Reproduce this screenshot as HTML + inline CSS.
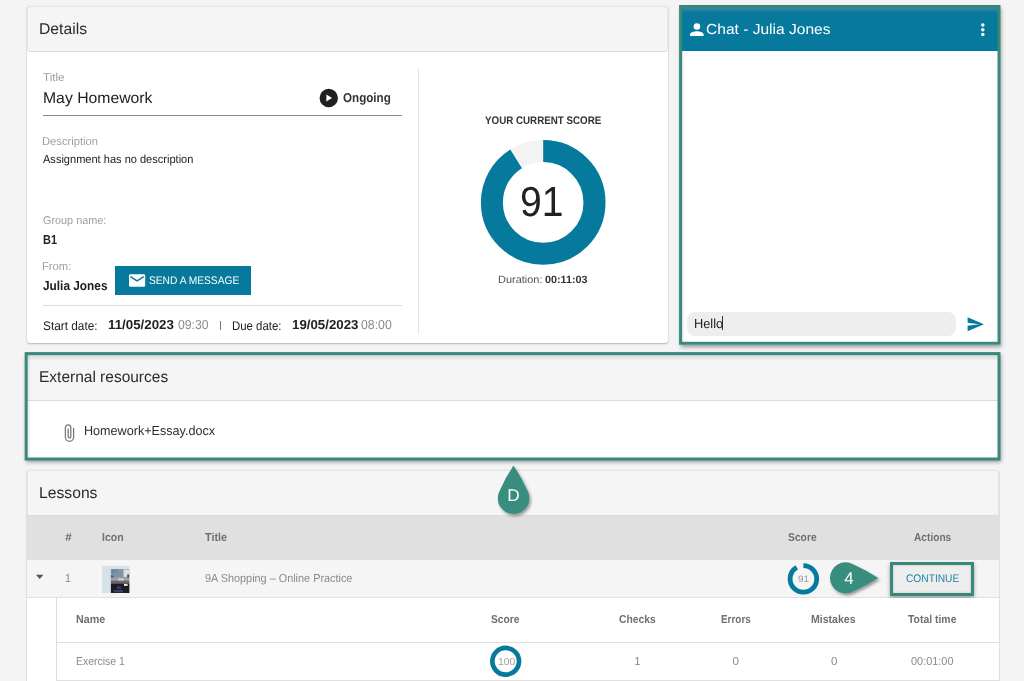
<!DOCTYPE html>
<html lang="en">
<head>
<meta charset="utf-8">
<title>Assignment details</title>
<style>
*{box-sizing:border-box;margin:0;padding:0}
html,body{width:1024px;height:681px;overflow:hidden;background:#f4f4f4;font-family:"Liberation Sans",sans-serif;color:#212121}
.a{position:absolute}
.t{position:absolute;white-space:nowrap;line-height:1;transform-origin:0 0;text-rendering:geometricPrecision}
.card{position:absolute;background:#fff;border-radius:3px;box-shadow:0 1px 2px rgba(0,0,0,.26),0 0 1px rgba(0,0,0,.18)}
.hdr{position:absolute;left:0;top:0;right:0;background:#f5f5f5;border:1px solid #e6e6e6;border-bottom-color:#dcdcdc;border-radius:3px}
</style>
</head>
<body>

<!-- DETAILS CARD -->
<div class="card" style="left:27px;top:6px;width:641px;height:337px"><div class="hdr" style="height:46px"></div></div>
<svg class="a" style="left:319px;top:88px" width="20" height="20" viewBox="0 0 20 20"><circle cx="9.75" cy="10" r="9.2" fill="#1f1f1f"/><path d="M7.4 6.4 L13.1 10 L7.4 13.6 Z" fill="#fff"/></svg>
<div class="a" style="left:43px;top:115px;width:359px;height:1px;background:#8c8c8c"></div>
<div class="a" style="left:115px;top:266px;width:136px;height:28.5px;background:#06799c"></div>
<svg class="a" style="left:129px;top:274px" width="17" height="13" viewBox="0 0 17 13"><rect x="0" y="0.2" width="16.2" height="12.5" rx="1.3" fill="#fff"/><path d="M1.4 2.6 L8.1 6.9 L14.8 2.6" fill="none" stroke="#06799c" stroke-width="1.5"/></svg>
<div class="a" style="left:43px;top:305px;width:359px;height:1px;background:#dcdcdc"></div>
<div class="a" style="left:219.5px;top:321px;width:1px;height:9px;background:#7a7a7a"></div>
<div class="a" style="left:418px;top:68px;width:1px;height:266px;background:#e3e3e3"></div>

<!-- SCORE -->
<svg class="a" style="left:478px;top:137px" width="131" height="131" viewBox="0 0 131 131">
  <circle cx="65.2" cy="65.4" r="51.3" fill="none" stroke="#f3f3f3" stroke-width="22"/>
  <circle cx="65.2" cy="65.4" r="51.3" fill="none" stroke="#067a9d" stroke-width="22" stroke-dasharray="293.3 400" transform="rotate(-90 65.2 65.4)"/>
</svg>

<!-- CHAT -->
<div class="a" style="left:682px;top:8px;width:316px;height:334px;background:#fff"></div>
<div class="a" style="left:682px;top:8px;width:316px;height:43px;background:#06799c"></div>
<div class="a" style="left:682px;top:8px;width:316px;height:5px;background:linear-gradient(rgba(110,150,160,.5),rgba(110,150,160,0))"></div>
<svg class="a" style="left:689px;top:23px" width="15" height="14" viewBox="0 0 15 14"><circle cx="7.9" cy="3.5" r="3.3" fill="#fff"/><path d="M1 12.9 V11.5 C1 9.2 5.4 8.2 7.9 8.2 C10.4 8.2 14.6 9.2 14.6 11.5 V12.9 Z" fill="#fff"/></svg>
<svg class="a" style="left:980px;top:22px" width="6" height="16" viewBox="0 0 6 16"><circle cx="2.8" cy="3" r="1.75" fill="#fff"/><circle cx="2.8" cy="7.75" r="1.75" fill="#fff"/><circle cx="2.8" cy="12.5" r="1.75" fill="#fff"/></svg>
<div class="a" style="left:686.7px;top:312.4px;width:269.2px;height:23.4px;border-radius:8px;background:#eeeeee"></div>
<div class="a" style="left:722px;top:316px;width:1px;height:14px;background:#333"></div>
<svg class="a" style="left:967px;top:316px" width="18" height="17" viewBox="0 0 18 17"><path d="M0.6 1.2 L16.8 8.2 L0.6 15.2 L0.6 9.75 L12.2 8.2 L0.6 6.65 Z" fill="#06799c"/></svg>


<!-- EXTERNAL RESOURCES -->
<div class="a" style="left:27px;top:354px;width:972px;height:104px;background:#fff"></div>
<div class="a" style="left:27px;top:354px;width:972px;height:47px;background:#f5f5f5;border-bottom:1px solid #dcdcdc"></div>
<svg class="a" style="left:63px;top:423px" width="13" height="20" viewBox="0 0 13 20"><path d="M10.6 5.4 V14.2 A4.1 4.1 0 0 1 2.4 14.2 V4.6 A2.7 2.7 0 0 1 7.8 4.6 V13.6 A1.3 1.3 0 0 1 5.2 13.6 V6.2" fill="none" stroke="#787878" stroke-width="1.3" stroke-linecap="round"/></svg>


<!-- highlight frames -->
<div class="a" style="left:28px;top:355px;width:970px;height:6px;background:linear-gradient(rgba(110,110,110,.22),rgba(110,110,110,0))"></div>
<div class="a" style="left:28px;top:355px;width:3px;height:102px;background:linear-gradient(90deg,rgba(110,110,110,.14),rgba(110,110,110,0))"></div>
<div class="a" style="left:682px;top:51px;width:3px;height:291px;background:linear-gradient(90deg,rgba(110,110,110,.14),rgba(110,110,110,0))"></div>

<div class="a" style="left:679.5px;top:5.5px;width:320.5px;height:339px;box-shadow:1px 2px 4px rgba(0,0,0,.38)"></div>
<div class="a" style="left:25px;top:352.5px;width:975px;height:107.5px;box-shadow:1px 2px 4px rgba(0,0,0,.38)"></div>
<svg class="a" style="left:0;top:0;overflow:visible" width="1024" height="681" viewBox="0 0 1024 681">
  <rect x="680.6" y="6.5" width="318.4" height="336.8" fill="none" stroke="#38897b" stroke-width="3"/>
  <rect x="26.2" y="353.6" width="972.8" height="105.4" fill="none" stroke="#38897b" stroke-width="3"/>
</svg>

<!-- LESSONS -->
<div class="card" style="left:27px;top:470px;width:972px;height:230px"><div class="hdr" style="height:46px;border-bottom:none;border-radius:3px 3px 0 0"></div></div>
<div class="a" style="left:27px;top:515px;width:972px;height:1px;background:#dcdcdc"></div>
<div class="a" style="left:27px;top:516px;width:972px;height:44px;background:#e0e0e0"></div>
<div class="a" style="left:27px;top:560px;width:972px;height:38px;background:#f5f5f5;border-bottom:1px solid #e0e0e0"></div>
<svg class="a" style="left:35px;top:574px" width="10" height="6" viewBox="0 0 10 6"><path d="M1 0.8 H8.4 L4.7 5 Z" fill="#555"/></svg>
<!-- thumbnail -->
<svg class="a" style="left:102px;top:565px" width="29" height="29" viewBox="0 0 29 29">
  <defs><clipPath id="tc"><rect x="0" y="0.9" width="27.4" height="27"/></clipPath><filter id="tb"><feGaussianBlur stdDeviation="0.55"/></filter></defs>
  <rect x="0" y="0.9" width="27.4" height="27" fill="#d5e2ea"/>
  <g clip-path="url(#tc)"><g filter="url(#tb)" transform="translate(0,0.9)">
    <rect x="8.9" y="3.1" width="19" height="11" fill="#8795ab"/>
    <rect x="9.5" y="4" width="6" height="4" fill="#73829a"/>
    <rect x="12" y="6" width="9" height="5" fill="#7f93a2"/>
    <rect x="21.5" y="3.6" width="6" height="7.4" fill="#dadde2"/>
    <rect x="8.9" y="9.6" width="2.6" height="3.2" fill="#4d525e"/>
    <rect x="25.2" y="8.6" width="2.4" height="3.8" fill="#434855"/>
    <rect x="8.9" y="11.5" width="19" height="4" fill="#9a9fa8"/>
    <rect x="16" y="12.6" width="6" height="2.2" fill="#cfd2d8"/>
    <rect x="8.9" y="14.8" width="19" height="3.6" fill="#6b6867"/>
    <rect x="8.9" y="17.8" width="19" height="9.4" fill="#1b1b23"/>
    <rect x="22" y="18" width="3.6" height="2" fill="#efeadf"/>
    <rect x="15" y="20.5" width="4" height="2.5" fill="#3a425e"/>
    <rect x="12" y="24" width="9" height="2.5" fill="#34446a"/>
  </g></g>
</svg>
<!-- small donut 91 -->
<svg class="a" style="left:786px;top:561px" width="35" height="35" viewBox="0 0 35 35">
  <circle cx="17.4" cy="17.9" r="13.3" fill="none" stroke="#067a9d" stroke-width="4.8" stroke-dasharray="76.05 100" transform="rotate(-90 17.4 17.9)"/>
</svg>
<!-- marker 4 -->
<svg class="a" style="left:822px;top:555px;overflow:visible" width="66" height="48" viewBox="0 0 66 48">
  <defs><filter id="sh" x="-30%" y="-30%" width="160%" height="160%"><feDropShadow dx="1.5" dy="2" stdDeviation="1.5" flood-color="#000" flood-opacity=".4"/></filter></defs>
  <path d="M56.3 23.1 Q44.25 15.1 31.04 9.19 A15.6 15.6 0 1 0 31.04 36.61 Q44.25 30.9 56.3 23.1 Z" fill="#378d7f" filter="url(#sh)"/>
</svg>
<!-- continue -->
<div class="a" style="left:890px;top:562px;width:84px;height:33.7px;border:3px solid #38897b;background:#eeeeee;box-shadow:0 2px 4px rgba(0,0,0,.35), inset 0 0 3px rgba(0,0,0,.18)"></div>

<!-- sub table -->
<div class="a" style="left:27px;top:598px;width:972px;height:83px;background:#fff"></div>
<div class="a" style="left:56px;top:598px;width:1px;height:83px;background:#dcdcdc"></div>
<div class="a" style="left:56px;top:642px;width:943px;height:1px;background:#e0e0e0"></div>
<div class="a" style="left:56px;top:680px;width:943px;height:1px;background:#e0e0e0"></div>
<!-- small donut 100 -->
<svg class="a" style="left:488px;top:644px" width="35" height="35" viewBox="0 0 35 35">
  <circle cx="17.7" cy="17.3" r="13.35" fill="none" stroke="#067a9d" stroke-width="4.7"/>
</svg>
<!-- marker D -->
<svg class="a" style="left:490px;top:460px;overflow:visible" width="48" height="60" viewBox="0 0 48 60">
  <path d="M23.5 5.6 Q15.6 17.5 9.78 30.54 A15.8 15.8 0 1 0 37.42 30.54 Q31.5 17.5 23.5 5.6 Z" fill="#378d7f" filter="url(#sh)"/>
</svg>

<div class="t" style="left:39.04px;top:22px;font-size:15.7px;color:#2b2b2b">Details</div>
<div class="t" style="left:43.07px;top:73px;font-size:11.4px;color:#9e9e9e;transform:scaleX(1.0237)">Title</div>
<div class="t" style="left:42.63px;top:91px;font-size:15.5px;color:#212121;transform:scaleX(1.0164)">May Homework</div>
<div class="t" style="left:343.40px;top:91px;font-size:13px;color:#333;font-weight:bold;transform:scaleX(0.8943)">Ongoing</div>
<div class="t" style="left:42.40px;top:137px;font-size:11.4px;color:#9e9e9e;transform:scaleX(0.9827)">Description</div>
<div class="t" style="left:43.21px;top:154px;font-size:11.6px;color:#212121;transform:scaleX(0.9524)">Assignment has no description</div>
<div class="t" style="left:42.82px;top:216px;font-size:11.4px;color:#9e9e9e;transform:scaleX(0.9521)">Group name:</div>
<div class="t" style="left:42.87px;top:233px;font-size:13px;color:#212121;font-weight:bold;transform:scaleX(0.8453)">B1</div>
<div class="t" style="left:42.40px;top:262px;font-size:11.4px;color:#9e9e9e;transform:scaleX(0.9857)">From:</div>
<div class="t" style="left:43.15px;top:279px;font-size:13px;color:#212121;font-weight:bold;transform:scaleX(0.9112)">Julia Jones</div>
<div class="t" style="left:148.97px;top:276px;font-size:11px;color:#fff;transform:scaleX(0.9283)">SEND A MESSAGE</div>
<div class="t" style="left:42.79px;top:320px;font-size:12.5px;color:#212121;transform:scaleX(0.9463)">Start date:</div>
<div class="t" style="left:107.88px;top:318px;font-size:13px;color:#212121;font-weight:bold;transform:scaleX(1.0236)">11/05/2023</div>
<div class="t" style="left:177.71px;top:318px;font-size:13px;color:#8c8c8c;transform:scaleX(0.9342)">09:30</div>
<div class="t" style="left:232.10px;top:320px;font-size:12.5px;color:#212121;transform:scaleX(0.9127)">Due date:</div>
<div class="t" style="left:291.98px;top:318px;font-size:13px;color:#212121;font-weight:bold;transform:scaleX(1.0219)">19/05/2023</div>
<div class="t" style="left:361.41px;top:318px;font-size:13px;color:#8c8c8c;transform:scaleX(0.9464)">08:00</div>
<div class="t" style="left:485.26px;top:116px;font-size:11px;color:#333;font-weight:bold;transform:scaleX(0.8894)">YOUR CURRENT SCORE</div>
<div class="t" style="left:519.94px;top:181px;font-size:42px;color:#212121;transform:scaleX(0.9297)">91</div>
<div class="t" style="left:498.30px;top:275px;font-size:10.5px;color:#555;transform:scaleX(1.0426)">Duration:</div>
<div class="t" style="left:545.47px;top:275px;font-size:10.5px;color:#333;font-weight:bold;transform:scaleX(1.0231)">00:11:03</div>
<div class="t" style="left:706.18px;top:23px;font-size:14.6px;color:#fff;transform:scaleX(1.0656)">Chat - Julia Jones</div>
<div class="t" style="left:694.29px;top:317px;font-size:13px;color:#212121;transform:scaleX(0.9853)">Hello</div>
<div class="t" style="left:38.86px;top:370px;font-size:15.7px;color:#2b2b2b;transform:scaleX(0.9873)">External resources</div>
<div class="t" style="left:84.00px;top:424px;font-size:13px;color:#2e2e2e;transform:scaleX(0.9693)">Homework+Essay.docx</div>
<div class="t" style="left:39.04px;top:486px;font-size:15.7px;color:#2b2b2b">Lessons</div>
<div class="t" style="left:65.31px;top:533px;font-size:11.5px;color:#707070;font-weight:bold">#</div>
<div class="t" style="left:102.31px;top:533px;font-size:11.5px;color:#707070;font-weight:bold;transform:scaleX(0.9159)">Icon</div>
<div class="t" style="left:205.01px;top:533px;font-size:11.5px;color:#707070;font-weight:bold;transform:scaleX(0.9432)">Title</div>
<div class="t" style="left:788.24px;top:533px;font-size:11.5px;color:#707070;font-weight:bold;transform:scaleX(0.8972)">Score</div>
<div class="t" style="left:913.92px;top:533px;font-size:11.5px;color:#707070;font-weight:bold;transform:scaleX(0.8838)">Actions</div>
<div class="t" style="left:64.67px;top:574px;font-size:11.5px;color:#8a8a8a">1</div>
<div class="t" style="left:204.56px;top:574px;font-size:11.5px;color:#8a8a8a;transform:scaleX(0.9448)">9A Shopping – Online Practice</div>
<div class="t" style="left:906.07px;top:574px;font-size:11px;color:#1c83a6;transform:scaleX(0.9278)">CONTINUE</div>
<div class="t" style="left:797.90px;top:575px;font-size:9.3px;color:#9a9a9a;transform:scaleX(1.0755)">91</div>
<div class="t" style="left:844.20px;top:570px;font-size:17px;color:#fff">4</div>
<div class="t" style="left:507.31px;top:487px;font-size:17.2px;color:#fff">D</div>
<div class="t" style="left:76.00px;top:615px;font-size:11.5px;color:#707070;font-weight:bold;transform:scaleX(0.9334)">Name</div>
<div class="t" style="left:490.54px;top:615px;font-size:11.5px;color:#707070;font-weight:bold;transform:scaleX(0.8926)">Score</div>
<div class="t" style="left:619.34px;top:615px;font-size:11.5px;color:#707070;font-weight:bold;transform:scaleX(0.8990)">Checks</div>
<div class="t" style="left:720.66px;top:615px;font-size:11.5px;color:#707070;font-weight:bold;transform:scaleX(0.8617)">Errors</div>
<div class="t" style="left:811.11px;top:615px;font-size:11.5px;color:#707070;font-weight:bold;transform:scaleX(0.9176)">Mistakes</div>
<div class="t" style="left:907.81px;top:615px;font-size:11.5px;color:#707070;font-weight:bold;transform:scaleX(0.9059)">Total time</div>
<div class="t" style="left:75.96px;top:657px;font-size:11.5px;color:#8a8a8a;transform:scaleX(0.9075)">Exercise 1</div>
<div class="t" style="left:497.56px;top:658px;font-size:10.2px;color:#9e9e9e;transform:scaleX(1.0210)">100</div>
<div class="t" style="left:634.17px;top:657px;font-size:11.5px;color:#8a8a8a">1</div>
<div class="t" style="left:732.41px;top:657px;font-size:11.5px;color:#8a8a8a">0</div>
<div class="t" style="left:830.91px;top:657px;font-size:11.5px;color:#8a8a8a">0</div>
<div class="t" style="left:910.54px;top:657px;font-size:11.5px;color:#8a8a8a;transform:scaleX(0.9499)">00:01:00</div>

</body>
</html>
